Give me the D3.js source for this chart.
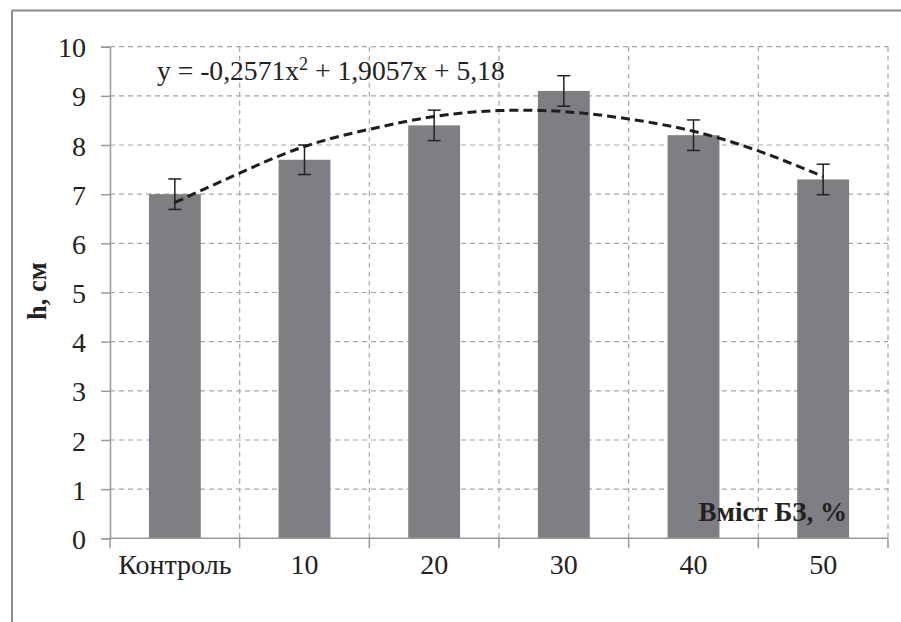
<!DOCTYPE html>
<html><head><meta charset="utf-8">
<script src="https://cdn.jsdelivr.net/npm/d3@7/dist/d3.min.js"></script>
<style>body{margin:0;background:#fff}svg{display:block}</style>
</head><body>
<script>
const categories = ["Контроль","10","20","30","40","50"];
const values = [7.0, 7.7, 8.4, 9.1, 8.2, 7.3];
const errors = [0.31, 0.30, 0.31, 0.31, 0.31, 0.31];
const yTicks = [0,1,2,3,4,5,6,7,8,9,10];
// trend line points (x in category index 1..6)
const trendX = [1, 1.5, 2, 2.5, 3, 3.5, 4, 4.5, 5, 5.5, 6];
const trendY = [6.83, 7.43, 7.97, 8.32, 8.58, 8.70, 8.68, 8.53, 8.28, 7.88, 7.36];
const equation = "y = -0,2571x";
const equation2 = " + 1,9057x + 5,18";
const yTitle = "h, см";
const xTitle = "Вміст БЗ, %";

const FONT = "'Liberation Serif', 'Times New Roman', Tinos, 'DejaVu Serif', serif";
const W = 901, H = 622;
const L = 110, R = 888, T = 46.7, B = 538.3;
const svg = d3.select("body").append("svg").attr("width", W).attr("height", H)
  .attr("font-family", FONT);

// outer frame (top and left)
svg.append("line").attr("x1",12).attr("x2",W).attr("y1",10.5).attr("y2",10.5).attr("stroke","#8c8c8c").attr("stroke-width",2);
svg.append("line").attr("x1",12).attr("x2",12).attr("y1",10.5).attr("y2",H).attr("stroke","#8c8c8c").attr("stroke-width",2);

const x = d3.scaleBand().domain(categories).range([L, R]).paddingInner(0).paddingOuter(0);
const y = d3.scaleLinear().domain([0, 10]).range([B, T]);
const xn = d3.scaleLinear().domain([0.5, 6.5]).range([L, R]);

// grid
const g = svg.append("g");
g.selectAll(".hg").data(yTicks.filter(d=>d>0)).join("line")
  .attr("x1", L).attr("x2", R).attr("y1", d=>y(d)).attr("y2", d=>y(d))
  .attr("stroke","#a6a6a6").attr("stroke-width",1.2).attr("stroke-dasharray","5,4");
const vb = categories.map(c=> x(c) + x.bandwidth());
g.selectAll(".vg").data(vb).join("line")
  .attr("x1", d=>d).attr("x2", d=>d).attr("y1", T).attr("y2", B)
  .attr("stroke","#a6a6a6").attr("stroke-width",1.2).attr("stroke-dasharray","5,4");

// bars
const bw = x.bandwidth()/2.5;
svg.selectAll(".bar").data(values).join("rect")
  .attr("x",(d,i)=> x(categories[i]) + x.bandwidth()/2 - bw/2)
  .attr("y", d=>y(d)).attr("width", bw).attr("height", d=> y(0)-y(d))
  .attr("fill","#7f7f83");

// axes
const yAxis = d3.axisLeft(y).tickValues(yTicks).tickSize(9).tickFormat(d3.format("d"));
const ya = svg.append("g").attr("transform",`translate(${L},0)`).call(yAxis)
  .attr("font-family", FONT).attr("font-size", 28);
ya.select(".domain").attr("stroke","#999").attr("stroke-width",1.5);
ya.selectAll(".tick line").attr("stroke","#999").attr("stroke-width",1.5);
ya.selectAll(".tick text").attr("x",-24).attr("dy","0.36em")
  .style("font-family", FONT).style("font-size","28px").attr("fill","#222");

const xa = svg.append("g").attr("transform",`translate(0,${B})`);
xa.append("line").attr("x1",L).attr("x2",R).attr("y1",0).attr("y2",0).attr("stroke","#999").attr("stroke-width",1.5);
xa.selectAll(".xt").data([L].concat(vb)).join("line")
  .attr("x1",d=>d).attr("x2",d=>d).attr("y1",0).attr("y2",10).attr("stroke","#999").attr("stroke-width",1.5);
xa.selectAll(".xl").data(categories).join("text")
  .attr("x", d=> x(d)+x.bandwidth()/2).attr("y", 36).attr("fill","#222")
  .attr("text-anchor","middle").style("font-family", FONT).style("font-size","28px").text(d=>d);

// error bars
const eb = svg.append("g").attr("stroke","#222").attr("stroke-width",1.5);
values.forEach((v,i)=>{
  const cx = x(categories[i]) + x.bandwidth()/2;
  eb.append("line").attr("x1",cx).attr("x2",cx).attr("y1",y(v+errors[i])).attr("y2",y(v-errors[i]));
  eb.append("line").attr("x1",cx-6.5).attr("x2",cx+6.5).attr("y1",y(v+errors[i])).attr("y2",y(v+errors[i]));
  eb.append("line").attr("x1",cx-6.5).attr("x2",cx+6.5).attr("y1",y(v-errors[i])).attr("y2",y(v-errors[i]));
});

// trend line
const line = d3.line().x(d=>xn(d[0])).y(d=>y(d[1])).curve(d3.curveNatural);
svg.append("path").datum(trendX.map((d,i)=>[d,trendY[i]]))
  .attr("d", line).attr("fill","none").attr("stroke","#1e1e1e").attr("stroke-width",3)
  .attr("stroke-dasharray","9,5");

// equation
const eq = svg.append("text").attr("x",157).attr("y",80).attr("fill","#222")
  .style("font-family", FONT).style("font-size","27.6px");
eq.append("tspan").text(equation);
eq.append("tspan").attr("dy",-10).style("font-size","18px").text("2");
eq.append("tspan").attr("dy",10).text(equation2);

// titles
svg.append("text").attr("transform","translate(46,291) rotate(-90)").attr("text-anchor","middle")
  .attr("fill","#222").style("font-family", FONT)
  .style("font-size","26.5px").style("font-weight","bold").text(yTitle);
svg.append("text").attr("x",847).attr("y",521).attr("text-anchor","end")
  .attr("fill","#222").style("font-family", FONT)
  .style("font-size","27px").style("font-weight","bold").text(xTitle);
</script>
</body></html>
